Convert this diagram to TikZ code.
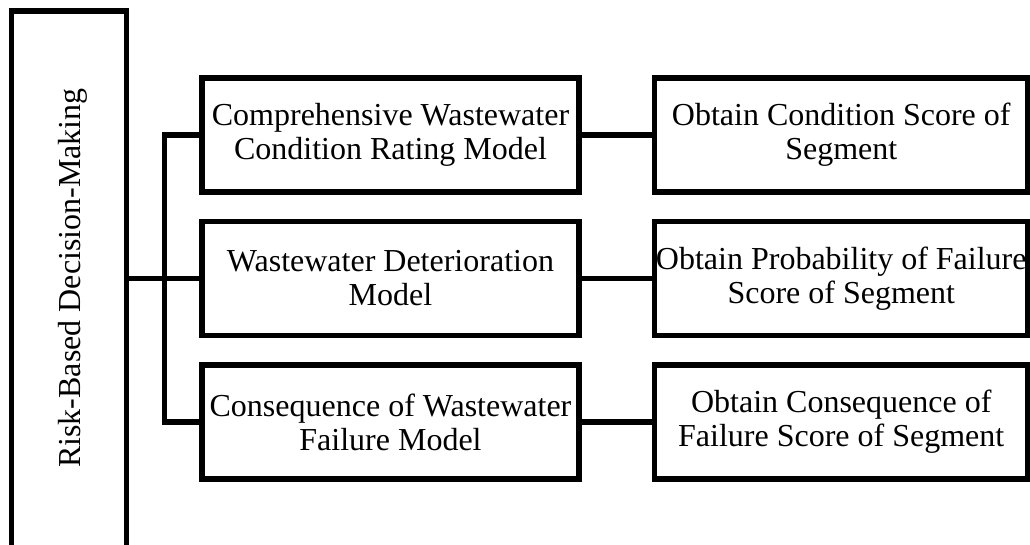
\documentclass[tikz,border=0pt]{standalone}
\usepackage{fontspec}
\setmainfont{Liberation Serif}
\begin{document}
\begin{tikzpicture}[x=1pt,y=-1pt,
  box/.style={draw, line width=5.5pt, line join=miter, rectangle, inner sep=0pt,
    align=center, font=\fontsize{32}{34}\selectfont},
  midbox/.style={box, minimum width=377pt, minimum height=114pt},
  outbox/.style={box, minimum width=373.5pt, minimum height=114pt},
  link/.style={line width=5.5pt, line join=miter}]
\useasboundingbox (0,0) rectangle (1030,545);

% main column on the left, running off the bottom of the page
\node[box, minimum width=115pt, minimum height=549pt] (main) at (69,285.5) {};
\node[rotate=90, anchor=base, inner sep=0pt, font=\fontsize{32}{34}\selectfont]
  (maintext) at (80,278) {Risk-Based Decision-Making};

% models
\node[midbox] (m1) at (390.5,135) {Comprehensive Wastewater\\Condition Rating Model};
\node[midbox] (m2) at (390.5,278.5) {Wastewater Deterioration\\Model};
\node[midbox] (m3) at (390.5,422) {Consequence of Wastewater\\Failure Model};

% outputs
\node[outbox] (r1) at (841.25,135) {Obtain Condition Score of\\Segment};
\node[outbox] (r2) at (841.25,278.5) {Obtain Probability of Failure\\Score of Segment};
\node[outbox] (r3) at (841.25,422) {Obtain Consequence of\\Failure Score of Segment};

% branching connectors
\coordinate (trunk) at (164.5,422);
\draw[link] (m2.west -| main.east) -- (m2.west);
\draw[link] (m1.west) -| (trunk) -- (m3.west);
\draw[link] (m1.east) -- (r1.west);
\draw[link] (m2.east) -- (r2.west);
\draw[link] (m3.east) -- (r3.west);
\end{tikzpicture}
\end{document}
